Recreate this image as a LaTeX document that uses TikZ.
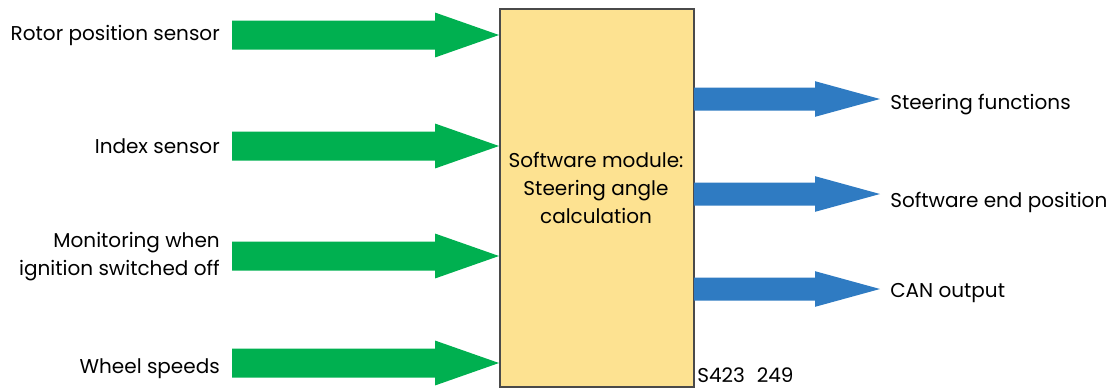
\documentclass[tikz,border=0pt]{standalone}
\usepackage{fontspec}
\setmainfont{Poppins}
\definecolor{arrowgreen}{HTML}{00B050}
\definecolor{arrowblue}{HTML}{2F7BC2}
\definecolor{boxyellow}{HTML}{FDE291}
\definecolor{boxborder}{HTML}{4A4A4A}
\newcommand\fatarrow[6]{% #1 colour, #2 start x, #3 head x, #4 tip x, #5 centre y, #6 shaft half-height
  \fill[#1] (#2,#5-#6) -- (#3,#5-#6) -- (#3,#5-1.55*#6) -- (#4,#5) -- (#3,#5+1.55*#6) -- (#3,#5+#6) -- (#2,#5+#6) -- cycle;}
\begin{document}
\begin{tikzpicture}[x=0.75pt,y=-0.75pt,
  lbl/.style={font=\fontsize{15}{21}\selectfont, inner sep=0pt, text=black}]
\useasboundingbox (0,0) rectangle (1114,387);
% box
\node[draw=boxborder, line width=1.5pt, fill=boxyellow, minimum width=145.5pt, minimum height=283.5pt, inner sep=0pt, anchor=north west] (box) at (499,8) {};
\node[lbl, align=center, anchor=base] (boxtext) at (596,223) {Software module:\\Steering angle\\calculation};
% inputs
\node[lbl, anchor=base east] (rotor) at (220,40) {Rotor position sensor};
\node[lbl, anchor=base east] (index) at (220,153) {Index sensor};
\node[lbl, anchor=base east, align=right] (monitor) at (220,275) {Monitoring when\\ignition switched off};
\node[lbl, anchor=base east] (wheel) at (220,373) {Wheel speeds};
% outputs
\node[lbl, anchor=base west] (steer) at (890,109) {Steering functions};
\node[lbl, anchor=base west] (endpos) at (890,207) {Software end position};
\node[lbl, anchor=base west] (can) at (890,297) {CAN output};
\node[lbl, anchor=base west] (code) at (697,382) {S423\hspace{0.6em}249};
% green input arrows
\fatarrow{arrowgreen}{232}{435}{499}{35}{14.5}
\fatarrow{arrowgreen}{232}{435}{499}{146}{14.5}
\fatarrow{arrowgreen}{232}{435}{499}{256}{14.5}
\fatarrow{arrowgreen}{232}{435}{499}{363}{14.5}
% blue output arrows
\fatarrow{arrowblue}{694}{815}{880}{99}{11.5}
\fatarrow{arrowblue}{694}{815}{880}{194}{11.5}
\fatarrow{arrowblue}{694}{815}{880}{289}{11.5}
\end{tikzpicture}
\end{document}
